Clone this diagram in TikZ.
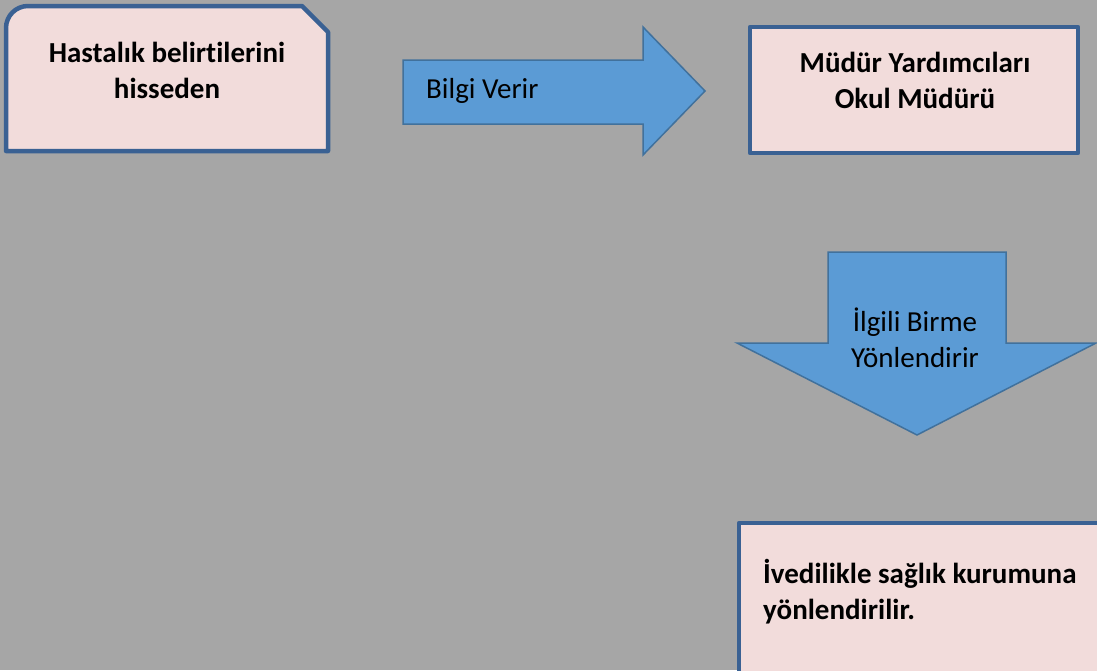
\documentclass[tikz,border=0pt]{standalone}
\usepackage{fontspec}
\setmainfont{Carlito}[Ligatures=NoCommon]
\usetikzlibrary{positioning}
\definecolor{bggray}{HTML}{A6A6A6}
\definecolor{boxpink}{HTML}{F2DCDB}
\definecolor{boxline}{HTML}{3A6193}
\definecolor{arrowblue}{HTML}{5B9BD5}
\definecolor{arrowline}{HTML}{41719C}

\begin{document}
\begin{tikzpicture}[x=1pt, y=-1pt]
        \tikzstyle{box}=[draw=boxline, fill=boxpink, line width=4.5pt, line join=round]
        \tikzstyle{blockarrow}=[draw=arrowline, fill=arrowblue, line width=1.5pt, line join=miter]
        \tikzstyle{txt}=[inner sep=0pt, font=\fontsize{29}{36}\selectfont]
        \tikzstyle{boldtxt}=[txt, font=\fontsize{29}{36}\selectfont\bfseries]

        \fill[bggray] (0,0) rectangle (1097,670);
        \useasboundingbox (0,0) rectangle (1097,670);

        % boxes
        \draw[box] (6,151) -- (6,28) arc[start angle=180, end angle=270, radius=22]
            -- (302,6) -- (328,32) -- (328,151) -- cycle;
        \draw[box] (750,27) rectangle (1078,153);
        \begin{scope}
            \clip (0,0) rectangle (1097,670);
            \draw[box] (739,523) rectangle (1115,690);
        \end{scope}

        % arrows
        \draw[blockarrow] (403,60) -- (643,60) -- (643,27) -- (705,91)
            -- (643,155) -- (643,124) -- (403,124) -- cycle;
        \draw[blockarrow] (828,252) -- (1006,252) -- (1006,343) -- (1096,343)
            -- (917,435) -- (737,343) -- (828,343) -- cycle;

        \node[boldtxt, align=center] (hst) at (167,70) {Hastalık belirtilerini\\hisseden};
        \node[boldtxt, align=center] (mdr) at (915,80) {Müdür Yardımcıları\\Okul Müdürü};
        \node[boldtxt, align=left, anchor=west] (ved) at (763,592) {İvedilikle sağlık kurumuna\\yönlendirilir.};
        \node[txt, anchor=west] (blg) at (426,91) {Bilgi Verir};
        \node[txt, align=center] (ilg) at (915,338) {İlgili Birme\\Yönlendirir};

    \end{tikzpicture}
\end{document}
